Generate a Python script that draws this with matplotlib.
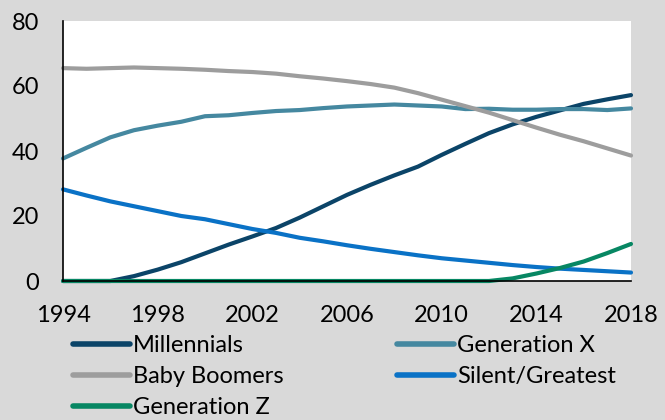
import matplotlib
matplotlib.use("Agg")
from matplotlib import pyplot as plt

years = list(range(1994, 2019))

millennials = [0, 0, 0, 1.5, 3.5, 5.8, 8.5, 11.2, 13.7, 16.3, 19.5, 23.0, 26.5,
               29.6, 32.5, 35.2, 38.8, 42.2, 45.5, 48.2, 50.5, 52.5, 54.5, 55.9, 57.2]
gen_x = [37.7, 41.0, 44.2, 46.4, 47.8, 49.0, 50.7, 51.0, 51.7, 52.3, 52.6, 53.2, 53.7,
         54.0, 54.3, 54.0, 53.7, 52.9, 53.0, 52.7, 52.7, 52.9, 52.9, 52.6, 53.1]
boomers = [65.5, 65.3, 65.5, 65.7, 65.5, 65.3, 65.0, 64.6, 64.3, 63.8, 63.0, 62.3, 61.5,
           60.6, 59.5, 57.8, 55.8, 53.8, 51.8, 49.5, 47.2, 45.0, 43.0, 40.8, 38.6]
silent = [28.2, 26.3, 24.5, 23.0, 21.5, 20.0, 19.0, 17.5, 16.0, 14.8, 13.3, 12.2, 11.0,
          9.9, 8.9, 7.9, 7.0, 6.3, 5.6, 4.9, 4.3, 3.8, 3.4, 3.0, 2.6]
gen_z = [0, 0, 0, 0, 0, 0, 0, 0, 0, 0, 0, 0, 0,
         0, 0, 0, 0, 0, 0, 0.8, 2.3, 4.0, 6.0, 8.6, 11.4]

series = [
    ("Millennials", millennials, "#0b4468"),
    ("Generation X", gen_x, "#4588a0"),
    ("Baby Boomers", boomers, "#9d9d9d"),
    ("Silent/Greatest", silent, "#0a72c6"),
    ("Generation Z", gen_z, "#078763"),
]

xticks = [1994, 1998, 2002, 2006, 2010, 2014, 2018]
yticks = [0, 20, 40, 60, 80]

plt.rcParams["font.family"] = ["Lato", "DejaVu Sans"]

fig = plt.figure(figsize=(6.65, 4.2), dpi=100, facecolor="#d9d9d9")
ax = fig.add_axes([63 / 665, 1 - 281 / 420, 568 / 665, 260 / 420])
ax.set_facecolor("white")

lines = {}
for name, vals, color in series:
    (ln,) = ax.plot(years, vals, color=color, lw=3.0, label=name,
                    solid_capstyle="round", clip_on=False)
    lines[name] = ln

ax.set_xlim(1994, 2018)
ax.set_ylim(0, 80)
ax.set_xticks(xticks)
ax.set_yticks(yticks)
ax.tick_params(length=0, labelsize=17, colors="black")
ax.tick_params(axis="x", pad=17.5)
ax.tick_params(axis="y", pad=17)
for side in ["top", "right"]:
    ax.spines[side].set_visible(False)
for side in ["left", "bottom"]:
    ax.spines[side].set_color("black")
    ax.spines[side].set_linewidth(1.2)

# legend in two columns: left column gets the first three entries
order = ["Millennials", "Baby Boomers", "Generation Z", "Generation X", "Silent/Greatest"]
leg = fig.legend([lines[n] for n in order], order, ncol=2, frameon=False,
                 loc="upper left", bbox_to_anchor=(73 / 665, 1 - 335 / 420),
                 borderpad=0, borderaxespad=0, fontsize=17,
                 handlelength=2.4, handletextpad=0.15, labelspacing=0.42,
                 columnspacing=4.8)
for h in leg.legend_handles:
    h.set_linewidth(4)

fig.savefig("out.png", dpi=100, facecolor=fig.get_facecolor())
